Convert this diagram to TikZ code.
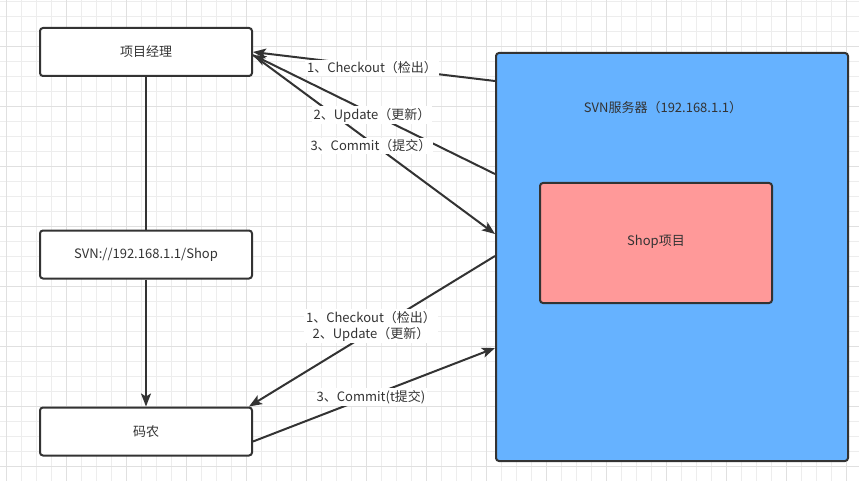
\documentclass[tikz,border=0pt]{standalone}
\usepackage{fontspec}
\setmainfont{Noto Sans CJK SC}
\usetikzlibrary{arrows.meta,calc}
\definecolor{ink}{HTML}{333333}
\definecolor{gridminor}{HTML}{EDEDED}
\definecolor{gridmajor}{HTML}{E0E0E0}
\definecolor{serverblue}{HTML}{66B2FF}
\definecolor{shoppink}{HTML}{FF9999}
\tikzset{
  box/.style={draw=ink, line width=2pt, rounded corners=3pt, fill=white, text=ink,
    minimum width=212pt, minimum height=48pt, inner sep=0pt},
  conn/.style={draw=ink, line width=2pt},
  arr/.style={conn, -{Stealth[length=13pt, width=10pt, inset=3pt]}},
  lab/.style={fill=white, text=ink, inner sep=2pt, align=center, font=\fontsize{13pt}{16pt}\selectfont},
}
\begin{document}
\begin{tikzpicture}[x=1pt, y=-1pt, font=\fontsize{13pt}{16pt}\selectfont]
\useasboundingbox (0,0) rectangle (859,481);
\fill[white] (0,0) rectangle (859,481);
% grid
\foreach \gx in {6.7,21.7,...,859}{\draw[gridminor, line width=1pt] (\gx,0) -- (\gx,481);}
\foreach \gy in {1.7,16.7,...,481}{\draw[gridminor, line width=1pt] (0,\gy) -- (859,\gy);}
\foreach \gx in {6.7,66.7,...,859}{\draw[gridmajor, line width=1pt] (\gx,0) -- (\gx,481);}
\foreach \gy in {46.7,106.7,...,481}{\draw[gridmajor, line width=1pt] (0,\gy) -- (859,\gy);}

% nodes
\node[box] (pm) at (146,52) {项目经理};
\node[box] (url) at (146,254.5) {SVN://192.168.1.1/Shop};
\node[box] (coder) at (146,431.5) {码农};
\node[draw=ink, line width=2pt, rounded corners=3pt, fill=serverblue,
      minimum width=352pt, minimum height=408pt, inner sep=0pt] (server) at (672,257) {};
\node[text=ink] (svnlabel) at (663,108) {SVN服务器（192.168.1.1）};
\node[draw=ink, line width=2pt, rounded corners=3pt, fill=shoppink, text=ink,
      minimum width=232pt, minimum height=120pt, inner sep=0pt] (shop) at (656,243) {\raisebox{6pt}{Shop项目}};

% connectors
\draw[conn] (pm.south) -- (url.north);
\draw[arr] (url.south) -- (coder.north);
\draw[arr] ([yshift=-29pt]server.north west) -- (pm.east);
\draw[arr] ([yshift=-122pt]server.north west) -- ([yshift=-3pt]pm.east);
\draw[arr] ([yshift=-3pt]pm.east) -- ([yshift=-182pt]server.north west);
\draw[arr] ([yshift=-204pt]server.north west) -- ([xshift=-4pt]coder.north east);
\draw[arr] ([yshift=-10pt]coder.east) -- ([yshift=-296pt]server.north west);

% labels
\node[lab] (l1) at (372,68) {1、Checkout（检出）};
\node[lab] (l2) at (372,115) {2、Update（更新）};
\node[lab] (l3) at (371,146) {3、Commit（提交）};
\node[lab] (l4) at (371,326) {1、Checkout（检出）\\2、Update（更新）};
\node[lab] (l5) at (371,397) {3、Commit(t提交)};
\end{tikzpicture}
\end{document}
